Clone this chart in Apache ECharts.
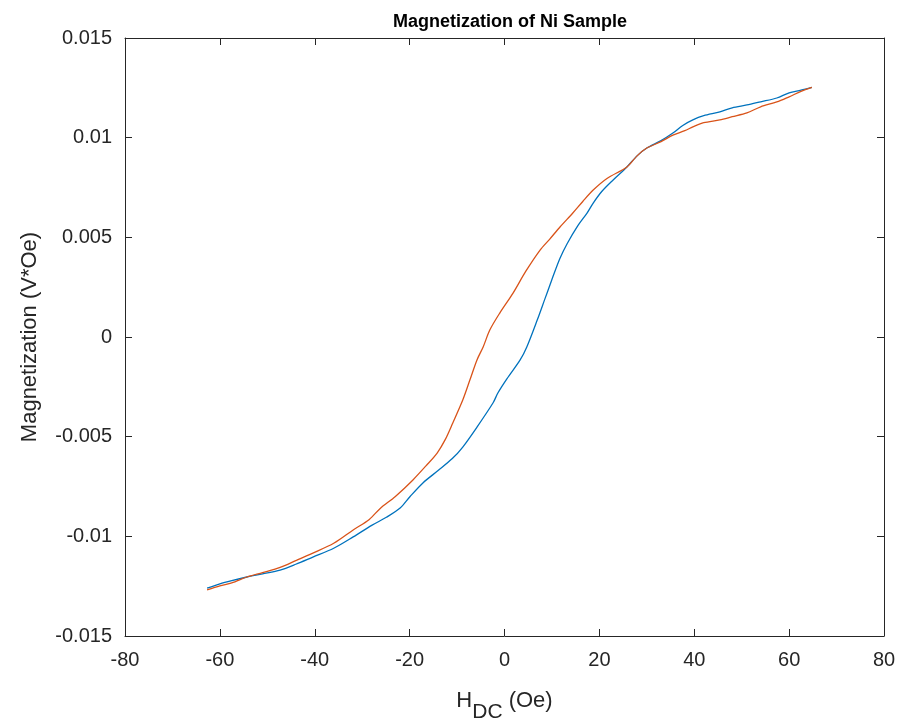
<!DOCTYPE html>
<html>
<head>
<meta charset="utf-8">
<script src="https://cdn.jsdelivr.net/npm/echarts@6/dist/echarts.min.js"></script>
<style>html,body{margin:0;padding:0;background:#fff}#c{width:904px;height:721px}</style>
</head>
<body>
<div id="c"></div>
<script>
var chartTitle = 'Magnetization of Ni Sample';
var xTicks = [-80, -60, -40, -20, 0, 20, 40, 60, 80];
var yTicks = [-0.015, -0.01, -0.005, 0, 0.005, 0.01, 0.015];
var blueH = [-62.7,-60,-57.5,-54.3,-51,-47.3,-44,-40.4,-36,-31.9,-28,-24.8,-22,-19.9,-17.2,-14,-11,-8.8,-5.8,-2.4,-1.4,0.5,3.3,4.7,6.9,8.5,9.6,10.2,11.7,13.2,15.5,17.4,18.7,20.5,22.9,25.8,28,30,33,35.5,37.5,39.7,42,45.4,48,51.1,54,57.4,60,62.5,64.8];
var blueM = [-0.01260,-0.01238,-0.01222,-0.01204,-0.01188,-0.01169,-0.01140,-0.01104,-0.01060,-0.01003,-0.00945,-0.00903,-0.00858,-0.00800,-0.00732,-0.00670,-0.00610,-0.00552,-0.00452,-0.00330,-0.00281,-0.00210,-0.00115,-0.00050,0.00085,0.00190,0.00262,0.00302,0.00395,0.00468,0.00560,0.00622,0.00672,0.00730,0.00788,0.00853,0.00910,0.00948,0.00985,0.01023,0.01060,0.01089,0.01110,0.01129,0.01150,0.01164,0.01180,0.01199,0.01225,0.01238,0.01252];
var orangeH = [-62.7,-60,-57.5,-54.3,-51,-47.3,-44,-40.4,-36,-31.9,-28.5,-26.2,-23,-19.3,-16.5,-14.2,-12.5,-10.9,-8.8,-7.3,-5.8,-4.5,-3.1,-1,1.8,4.5,7.5,9.5,11.7,14.4,16.5,18.7,21.6,25.8,28,30,33,35.5,38,39.7,42,45.4,48,51.1,54,57.4,60,62.5,64.8];
var orangeM = [-0.01269,-0.01248,-0.01234,-0.01204,-0.01182,-0.01156,-0.01122,-0.01084,-0.01035,-0.00968,-0.00915,-0.00860,-0.00800,-0.00717,-0.00645,-0.00582,-0.00515,-0.00431,-0.00316,-0.00216,-0.00115,-0.00050,0.00035,0.00120,0.00220,0.00330,0.00436,0.00490,0.00552,0.00622,0.00680,0.00737,0.00795,0.00853,0.00910,0.00948,0.00980,0.01013,0.01035,0.01054,0.01075,0.01089,0.01105,0.01124,0.01155,0.01179,0.01205,0.01232,0.01252];

function pairs(xs, ys){ return xs.map(function(x,i){ return [x, ys[i]]; }); }
var font = 'Liberation Sans, Arial, Helvetica, sans-serif';
var axisColor = '#262626';
var xStep = xTicks[1]-xTicks[0];
var yStep = 0.005;
function fmtY(v){ return String(parseFloat(v.toFixed(4))); }

var baseX = {
  type:'value', min:xTicks[0], max:xTicks[xTicks.length-1], interval:xStep,
  axisLine:{show:true, onZero:false, lineStyle:{color:axisColor, width:1}},
  axisTick:{show:true, inside:true, length:7, lineStyle:{color:axisColor}},
  splitLine:{show:false}
};
var baseY = {
  type:'value', min:yTicks[0], max:yTicks[yTicks.length-1], interval:yStep,
  axisLine:{show:true, onZero:false, lineStyle:{color:axisColor, width:1}},
  axisTick:{show:true, inside:true, length:7, lineStyle:{color:axisColor}},
  splitLine:{show:false}
};

var chart = echarts.init(document.getElementById('c'), null, {renderer:'canvas'});
chart.setOption({
  animation:false,
  backgroundColor:'#fff',
  title:{text:chartTitle, left:505, top:8, textAlign:'center',
    textStyle:{fontFamily:font, fontWeight:'bold', fontSize:18, color:'#000'}},
  grid:{left:125, right:20, top:38, bottom:85, containLabel:false, outerBoundsMode:'none'},
  xAxis:[
    Object.assign({}, baseX, {position:'bottom',
      axisLabel:{show:true, margin:14, fontFamily:font, fontSize:20, color:axisColor},
      name:'{a|H}{b|DC}{a| (Oe)}', nameLocation:'middle', nameGap:50,
      nameTextStyle:{rich:{
        a:{fontFamily:font, fontSize:22, color:axisColor, verticalAlign:'bottom', lineHeight:26},
        b:{fontFamily:font, fontSize:21, color:axisColor, verticalAlign:'bottom', lineHeight:26, padding:[0,0,-11,0]}
      }}}),
    Object.assign({}, baseX, {position:'top', axisLabel:{show:false}})
  ],
  yAxis:[
    Object.assign({}, baseY, {position:'left',
      axisLabel:{show:true, margin:13, fontFamily:font, fontSize:20, color:axisColor, formatter:fmtY},
      name:'Magnetization (V*Oe)', nameLocation:'middle', nameGap:84, nameRotate:90,
      nameTextStyle:{fontFamily:font, fontSize:22, color:axisColor}}),
    Object.assign({}, baseY, {position:'right', axisLabel:{show:false}})
  ],
  series:[
    {type:'line', name:'up', data:pairs(blueH, blueM), showSymbol:false, smooth:0.3,
     lineStyle:{color:'#0072BD', width:1.3}, xAxisIndex:0, yAxisIndex:0},
    {type:'line', name:'down', data:pairs(orangeH, orangeM), showSymbol:false, smooth:0.3,
     lineStyle:{color:'#D95319', width:1.3}, xAxisIndex:0, yAxisIndex:0}
  ]
});
</script>
</body>
</html>
